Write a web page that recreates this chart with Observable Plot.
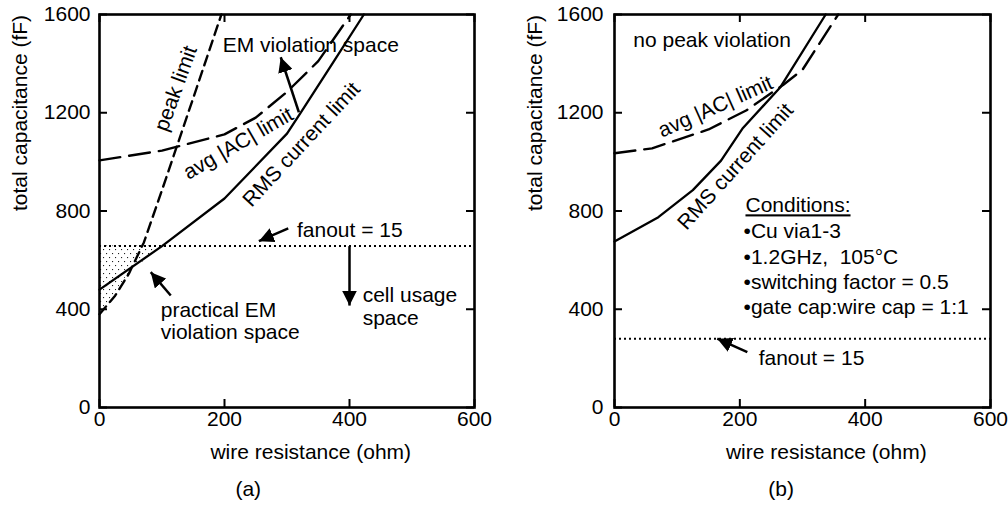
<!DOCTYPE html>
<html><head><meta charset="utf-8">
<script src="https://cdn.jsdelivr.net/npm/d3@7"></script>
<script src="https://cdn.jsdelivr.net/npm/@observablehq/plot@0.6"></script>
<style>
html,body{margin:0;padding:0;background:#fff;}
#wrap{display:flex;width:1008px;height:510px;}
svg text{white-space:pre;}
</style></head><body><div id="wrap"></div>
<script>
// ---- data ----
const xTicks = [0, 200, 400, 600];
const yTicks = [0, 400, 800, 1200, 1600];
const xLabel = "wire resistance (ohm)";
const yLabel = "total capacitance (fF)";

// panel (a)
const rmsA_R = [0, 100, 200, 300, 322, 370, 423];
const rmsA_C = [480, 657, 851, 1115, 1201, 1390, 1600];
const avgA_R = [0, 100, 200, 250, 300, 350, 402];
const avgA_C = [1006, 1046, 1112, 1180, 1285, 1410, 1600];
const peakA_R = [0, 25, 47, 71, 100, 150, 195];
const peakA_C = [380, 455, 545, 672, 885, 1260, 1600];
const fanoutA = 657;
const shadeA_R = [0, 45, 100];
const shadeA_lo = [380, 540, 657];

// panel (b)
const rmsB_R = [0, 70, 125, 170, 205, 265, 337];
const rmsB_C = [676, 775, 885, 1005, 1138, 1305, 1600];
const avgB_R = [0, 60, 110, 150, 210, 270, 300, 330, 357];
const avgB_C = [1035, 1055, 1098, 1132, 1209, 1315, 1375, 1494, 1600];
const fanoutB = 280;

const conditionsHead = "Conditions:";
const conditionsLines = ["•Cu via1-3", "•1.2GHz,  105°C", "•switching factor = 0.5", "•gate cap:wire cap = 1:1"];

const zip = (R, C) => R.map((r, i) => ({R: r, C: C[i]}));
const FONT = "Liberation Sans, Arial, Helvetica, sans-serif";
const FS = 21;
const H = 510, W = 504, MT = 14, MB = 103;

function headMarker(color) {
  const m = d3.create("svg:marker")
    .attr("viewBox", "-10 -5 10 10")
    .attr("refX", 0).attr("refY", 0)
    .attr("markerWidth", 6).attr("markerHeight", 6)
    .attr("orient", "auto")
    .attr("fill", color).attr("stroke", "none");
  m.append("path").attr("d", "M-10,-5L0,0L-10,5Z");
  return m.node();
}

function commonMarks(innerW, innerH, tickDx) {
  return [
    Plot.frame({strokeWidth: 2.6}),
    Plot.tickX(xTicks, {x: d => d, insetTop: innerH - 8, strokeWidth: 2}),
    Plot.tickX(xTicks, {x: d => d, insetBottom: innerH - 8, strokeWidth: 2}),
    Plot.tickY(yTicks, {y: d => d, insetRight: innerW - 8, strokeWidth: 2}),
    Plot.tickY(yTicks, {y: d => d, insetLeft: innerW - 8, strokeWidth: 2}),
    Plot.text(xTicks, {x: d => d, text: d => `${d}`, frameAnchor: "bottom", dy: 18, fontSize: FS}),
    Plot.text(yTicks, {y: d => d, text: d => `${d}`, frameAnchor: "left", dx: tickDx, textAnchor: "end", fontSize: FS}),
    Plot.text([xLabel], {x: 338, frameAnchor: "bottom", dy: 51, fontSize: FS}),
    Plot.text([yLabel], {frameAnchor: "left", dx: -79, rotate: -90, fontSize: FS})
  ];
}

// ---- panel (a) ----
const mlA = 99, mrA = 30;
const svgA = Plot.plot({
  width: W, height: H, marginLeft: mlA, marginRight: mrA, marginTop: MT, marginBottom: MB,
  x: {domain: [0, 600], axis: null},
  y: {domain: [0, 1600], axis: null},
  style: {fontFamily: FONT, fontSize: "21px", background: "white", color: "black", overflow: "visible"},
  marks: [
    Plot.areaY(shadeA_R.map((r, i) => ({R: r, lo: shadeA_lo[i], hi: fanoutA})),
      {x: "R", y1: "lo", y2: "hi", fill: "url(#dotsA)"}),
    Plot.ruleY([fanoutA], {strokeWidth: 2, strokeDasharray: "2,3"}),
    Plot.line(zip(peakA_R, peakA_C), {x: "R", y: "C", strokeWidth: 2.4, strokeDasharray: "10,6"}),
    Plot.line(zip(avgA_R, avgA_C), {x: "R", y: "C", strokeWidth: 2.4, strokeDasharray: "21,9"}),
    Plot.line(zip(rmsA_R, rmsA_C), {x: "R", y: "C", strokeWidth: 2.3}),
    ...commonMarks(W - mlA - mrA, H - MT - MB, -9),
    Plot.text([{t: "peak limit", x: 122, y: 1299, r: -70}, {t: "avg |AC| limit", x: 222, y: 1075, r: -30}, {t: "RMS current limit", x: 323, y: 1071, r: -47}],
      {x: "x", y: "y", text: "t", rotate: "r", fontSize: FS}),
    Plot.text([{t: "EM violation space", x: 197, y: 1474}, {t: "fanout = 15", x: 316, y: 720},
               {t: "practical EM", x: 98, y: 395}, {t: "violation space", x: 98, y: 305},
               {t: "cell usage", x: 421, y: 456}, {t: "space", x: 421, y: 362}],
      {x: "x", y: "y", text: "t", textAnchor: "start", fontSize: FS}),
    Plot.text(["(a)"], {x: 238, frameAnchor: "bottom", dy: 88, fontSize: FS}),
    Plot.link([{x1: 319, y1: 1202, x2: 290, y2: 1426}, {x1: 302, y1: 729, x2: 255, y2: 677},
               {x1: 114, y1: 456, x2: 82, y2: 551}, {x1: 400, y1: fanoutA, x2: 400, y2: 415}],
      {x1: "x1", y1: "y1", x2: "x2", y2: "y2", strokeWidth: 2.5, markerEnd: headMarker})
  ]
});
const defsA = d3.select(svgA).insert("defs", ":first-child");
const pat = defsA.append("pattern").attr("id", "dotsA").attr("patternUnits", "userSpaceOnUse")
  .attr("width", 6).attr("height", 8);
pat.append("rect").attr("x", 1).attr("y", 1).attr("width", 1.1).attr("height", 1.1).attr("fill", "#222");
pat.append("rect").attr("x", 4).attr("y", 5).attr("width", 1.1).attr("height", 1.1).attr("fill", "#222");

// ---- panel (b) ----
const mlB = 110, mrB = 18;
const svgB = Plot.plot({
  width: W, height: H, marginLeft: mlB, marginRight: mrB, marginTop: MT, marginBottom: MB,
  x: {domain: [0, 600], axis: null},
  y: {domain: [0, 1600], axis: null},
  style: {fontFamily: FONT, fontSize: "21px", background: "white", color: "black", overflow: "visible"},
  marks: [
    Plot.ruleY([fanoutB], {strokeWidth: 2, strokeDasharray: "2,3"}),
    Plot.line(zip(avgB_R, avgB_C), {x: "R", y: "C", strokeWidth: 2.4, strokeDasharray: "21,9"}),
    Plot.line(zip(rmsB_R, rmsB_C), {x: "R", y: "C", strokeWidth: 2.3}),
    ...commonMarks(W - mlB - mrB, H - MT - MB, -11),
    Plot.text([{t: "avg |AC| limit", x: 161, y: 1225, r: -24}, {t: "RMS current limit", x: 193, y: 981, r: -48}],
      {x: "x", y: "y", text: "t", rotate: "r", fontSize: FS}),
    Plot.text([{t: "no peak violation", x: 30, y: 1494}, {t: "fanout = 15", x: 230, y: 200}],
      {x: "x", y: "y", text: "t", textAnchor: "start", fontSize: FS}),
    Plot.text([conditionsHead], {x: 209, y: 822, textAnchor: "start", fontSize: FS}),
    Plot.text(conditionsLines, {x: 206, y: (d, i) => 716 - i * 103, text: d => d, textAnchor: "start", fontSize: FS}),
    Plot.text(["(b)"], {x: 266, frameAnchor: "bottom", dy: 88, fontSize: FS}),
    Plot.link([{x1: 212, y1: 225, x2: 164, y2: 280}],
      {x1: "x1", y1: "y1", x2: "x2", y2: "y2", strokeWidth: 2.5, markerEnd: headMarker})
  ]
});
d3.select(svgB).selectAll("text").filter(function () { return this.textContent === conditionsHead; })
  .style("text-decoration", "underline");

document.getElementById("wrap").append(svgA, svgB);
</script></body></html>
